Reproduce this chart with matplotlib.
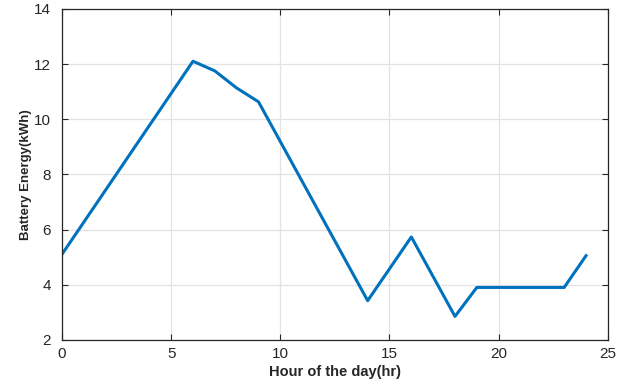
import matplotlib
matplotlib.use('Agg')
import matplotlib.pyplot as plt

# battery energy profile over the day
hours = [0, 6, 7, 8, 9, 14, 16, 18, 19, 23, 24]
energy = [5.1, 12.1, 11.75, 11.13, 10.63, 3.42, 5.73, 2.85, 3.9, 3.9, 5.05]

xticks = [0, 5, 10, 15, 20, 25]
yticks = [2, 4, 6, 8, 10, 12, 14]

plt.rcParams['font.family'] = ['Liberation Sans', 'DejaVu Sans']

fig = plt.figure(figsize=(6.26, 3.84), dpi=100)
ax = fig.add_axes([0.099, 0.115, 0.872, 0.862])

ax.plot(hours, energy, color='#0072BD', linewidth=2.2)

ax.set_xlim(0, 25)
ax.set_ylim(2, 14)
ax.set_xticks(xticks)
ax.set_yticks(yticks)
ax.grid(True, color='#e3e3e3', linewidth=0.9)
ax.set_axisbelow(True)
ax.tick_params(direction='in', top=True, right=True, length=4,
               labelsize=11, colors='#262626', width=0.8)
ax.tick_params(axis='y', pad=8)
ax.tick_params(axis='x', pad=5)
for s in ax.spines.values():
    s.set_color('#262626')
    s.set_linewidth(0.9)

ax.set_xlabel('Hour of the day(hr)', fontsize=10.5, fontweight='bold',
              color='#262626', labelpad=3)
ax.set_ylabel('Battery Energy(kWh)', fontsize=9.5, fontweight='bold',
              color='#262626', labelpad=1)

fig.savefig('out.png', dpi=100)
